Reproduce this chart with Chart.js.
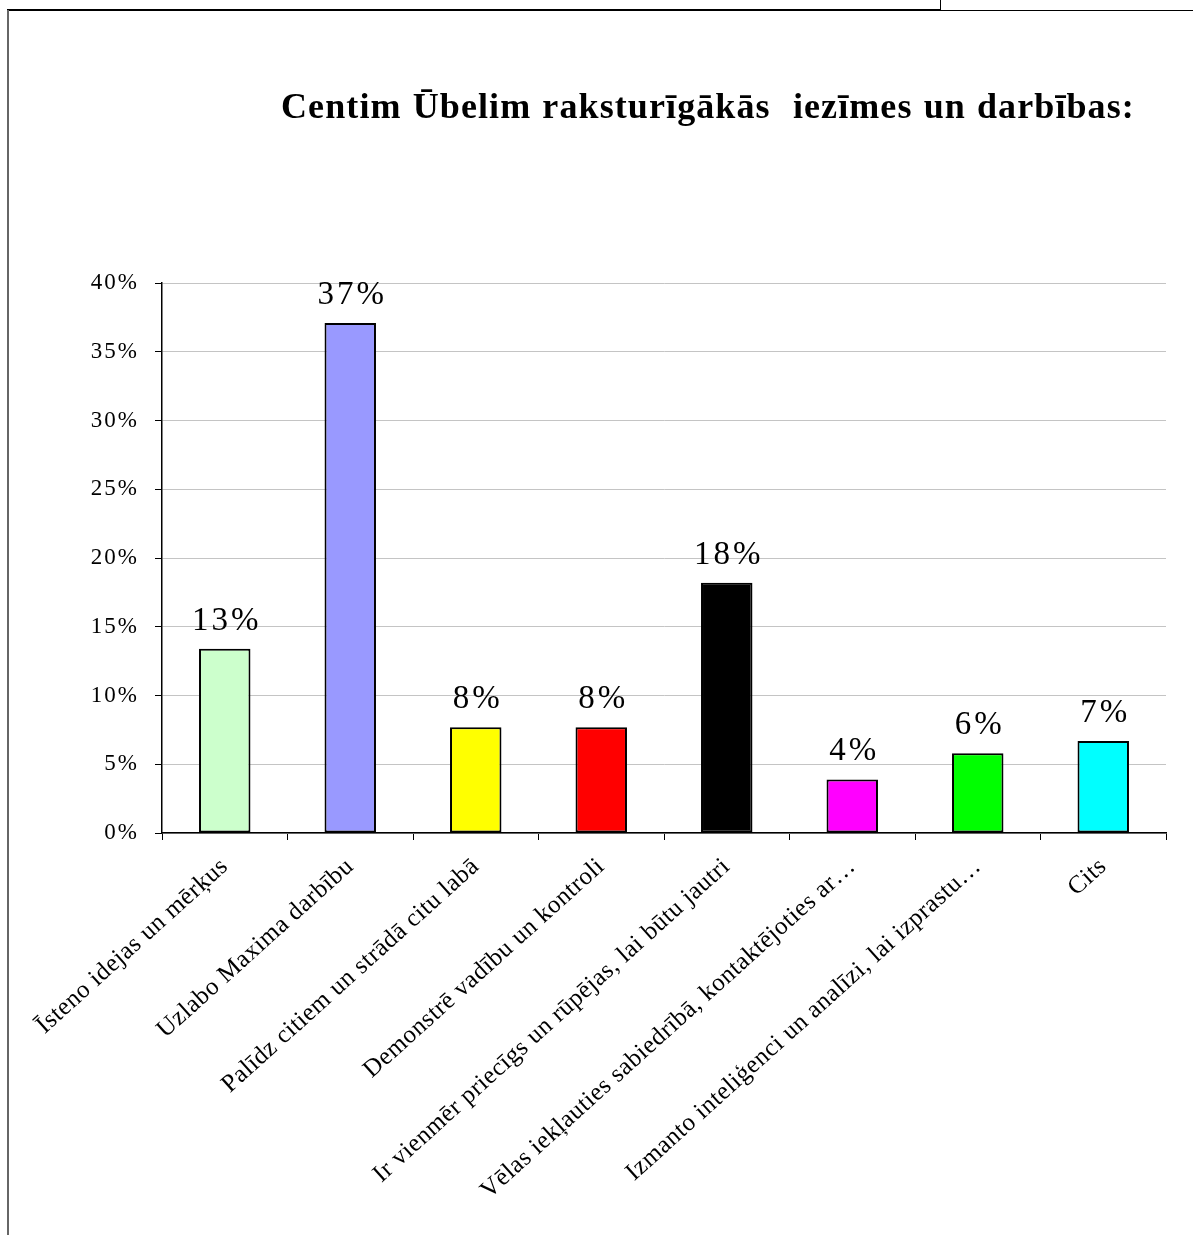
<!DOCTYPE html>
<html lang="lv">
<head>
<meta charset="utf-8">
<title>Centim Ūbelim raksturīgākās iezīmes un darbības</title>
<script src="https://cdn.jsdelivr.net/npm/chart.js@4.4.1/dist/chart.umd.min.js"></script>
<style>
    html, body { margin: 0; padding: 0; background: #fff; }
    #page { position: relative; width: 1193px; height: 1235px; overflow: hidden; }
    #chartBox { position: absolute; left: 0; top: 0; width: 1193px; height: 1235px; }
    #title {
        position: absolute; left: 281px; top: 85px;
        font: bold 36px "Liberation Serif", "Times New Roman", serif;
        letter-spacing: 1.1px; word-spacing: 1px; white-space: nowrap; color: #000;
    }
    .rule { position: absolute; }
</style>
</head>
<body>
<div id="page">
    <!-- frame lines of the page the chart sits on -->
    <div class="rule" style="left:7px; top:9px; width:934px; height:2px; background:#000;"></div>
    <div class="rule" style="left:940px; top:10px; width:253px; height:1px; background:#000;"></div>
    <div class="rule" style="left:940px; top:0; width:1px; height:10px; background:#000;"></div>
    <div class="rule" style="left:7px; top:10px; width:2px; height:1225px; background:#666;"></div>

    <div id="chartBox"><canvas id="barChart"></canvas></div>
    <div id="title">Centim Ūbelim raksturīgākās&nbsp; iezīmes un darbības:</div>
</div>

<script>
const categories = [
    'Īsteno idejas un mērķus',
    'Uzlabo Maxima darbību',
    'Palīdz citiem un strādā citu labā',
    'Demonstrē vadību un kontroli',
    'Ir vienmēr priecīgs un rūpējas, lai būtu jautri',
    'Vēlas iekļauties sabiedrībā, kontaktējoties ar…',
    'Izmanto inteliģenci un analīzi, lai izprastu…',
    'Cits'
];
const shares = [13.4, 37.1, 7.7, 7.7, 18.2, 3.9, 5.8, 6.7];
const barColors = ['#ccffcc', '#9999ff', '#ffff00', '#ff0000', '#000000', '#ff00ff', '#00ff00', '#00ffff'];
const yTicks = [0, 5, 10, 15, 20, 25, 30, 35, 40];

const serif = '"Liberation Serif", "Times New Roman", serif';

// percent labels over each bar; afterwards switch spacing for the x labels,
// which are drawn after the bars (ticks.z: 1)
const valueLabels = {
    id: 'valueLabels',
    beforeDraw(chart) { chart.ctx.letterSpacing = '2px'; },
    afterDatasetsDraw(chart) {
        const ctx = chart.ctx;
        const meta = chart.getDatasetMeta(0);
        ctx.save();
        ctx.font = '33px ' + serif;
        ctx.letterSpacing = '3px';
        ctx.fillStyle = '#000';
        ctx.textAlign = 'center';
        ctx.textBaseline = 'alphabetic';
        meta.data.forEach((bar, i) => {
            const v = chart.data.datasets[0].data[i];
            ctx.fillText(Math.round(v) + '%', bar.x + 2, bar.y - 19);
        });
        ctx.restore();
        ctx.letterSpacing = '0.5px';
    },
    afterDraw(chart) { chart.ctx.letterSpacing = '0px'; }
};

const ctx = document.getElementById('barChart').getContext('2d');
new Chart(ctx, {
    type: 'bar',
    data: {
        labels: categories,
        datasets: [{
            data: shares,
            backgroundColor: barColors,
            borderColor: '#000',
            borderWidth: 2,
            borderSkipped: false,
            categoryPercentage: 1,
            barPercentage: 0.41
        }]
    },
    options: {
        responsive: true,
        maintainAspectRatio: false,
        animation: false,
        layout: { padding: { left: 0, right: 27, top: 283, bottom: 0 } },
        plugins: {
            legend: { display: false },
            tooltip: { enabled: false }
        },
        scales: {
            x: {
                grid: { display: true, drawOnChartArea: false, color: '#000', tickLength: 7, lineWidth: 1 },
                border: { color: '#000', width: 1.5 },
                ticks: {
                    z: 1,
                    color: '#000',
                    font: { family: serif, size: 25 },
                    minRotation: 42,
                    maxRotation: 42,
                    autoSkip: false,
                    padding: 12
                },
                afterFit(s) { s.height = 1235 - 833; s.paddingLeft = 0; s.paddingRight = 0; }
            },
            y: {
                min: yTicks[0],
                max: yTicks[yTicks.length - 1],
                afterBuildTicks(s) { s.ticks = yTicks.map(v => ({ value: v })); },
                grid: { color: '#c4c4c4', tickColor: '#000', tickLength: 7, lineWidth: 1 },
                border: { color: '#000', width: 1.5 },
                ticks: {
                    color: '#000',
                    font: { family: serif, size: 23 },
                    padding: 16,
                    callback: v => v + '%'
                },
                afterFit(s) { s.width = 162; }
            }
        }
    },
    plugins: [valueLabels]
});
</script>
</body>
</html>
